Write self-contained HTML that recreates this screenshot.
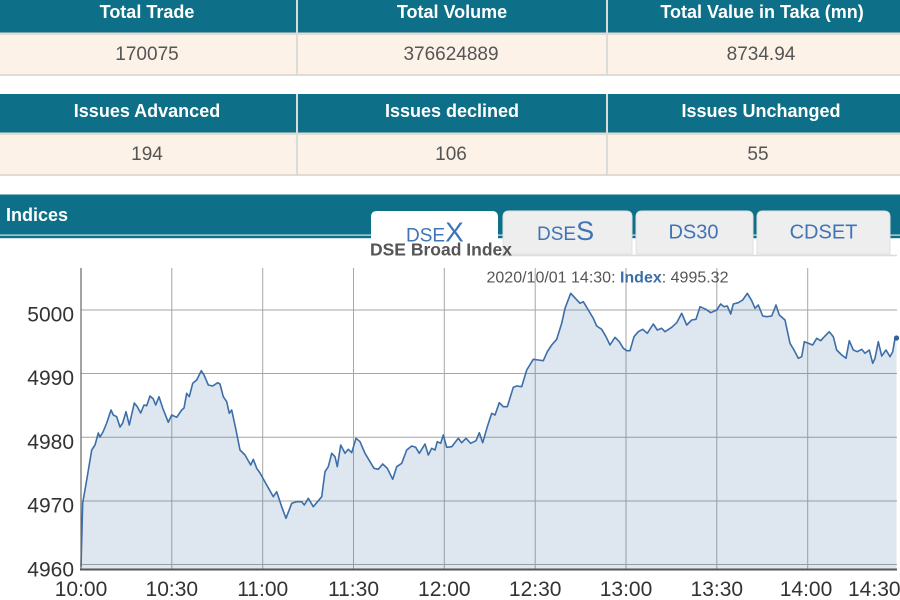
<!DOCTYPE html>
<html><head><meta charset="utf-8">
<style>
html,body{margin:0;padding:0;background:#fff;}
body{width:900px;height:600px;overflow:hidden;}
svg{display:block;font-family:"Liberation Sans",Arial,sans-serif;}
</style></head>
<body>
<svg width="900" height="600" viewBox="0 0 900 600" xmlns="http://www.w3.org/2000/svg">
<rect x="0" y="0" width="900" height="600" fill="#fff"/>
<!-- Table 1 -->
<rect x="0" y="0" width="900" height="32.5" fill="#0e7088"/>
<rect x="0" y="32.5" width="900" height="43.5" fill="#e2dbd1"/>
<rect x="0" y="35" width="900" height="39" fill="#fdf2e8"/>
<rect x="296" y="0" width="2" height="76" fill="#d9dcd8"/>
<rect x="606" y="0" width="2" height="76" fill="#d9dcd8"/>
<g font-size="18" font-weight="bold" fill="#fff" text-anchor="middle">
<text x="147" y="18">Total Trade</text>
<text x="452" y="18">Total Volume</text>
<text x="762" y="18">Total Value in Taka (mn)</text>
</g>
<g font-size="19" fill="#555" text-anchor="middle">
<text x="147" y="60">170075</text>
<text x="451" y="60">376624889</text>
<text x="761" y="60">8734.94</text>
</g>
<!-- Table 2 -->
<rect x="0" y="94" width="900" height="38.5" fill="#0e7088"/>
<rect x="0" y="132.5" width="900" height="43.5" fill="#e2dbd1"/>
<rect x="0" y="135" width="900" height="39" fill="#fdf2e8"/>
<rect x="296" y="94" width="2" height="82" fill="#d9dcd8"/>
<rect x="606" y="94" width="2" height="82" fill="#d9dcd8"/>
<g font-size="18" font-weight="bold" fill="#fff" text-anchor="middle">
<text x="147" y="117">Issues Advanced</text>
<text x="452" y="117">Issues declined</text>
<text x="761" y="117">Issues Unchanged</text>
</g>
<g font-size="19" fill="#555" text-anchor="middle">
<text x="147" y="160">194</text>
<text x="451" y="160">106</text>
<text x="758" y="160">55</text>
</g>
<!-- Indices bar -->
<rect x="0" y="194.5" width="900" height="40" fill="#0e7088"/>
<rect x="0" y="234.5" width="900" height="1.2" fill="#cfe3e8"/>
<rect x="0" y="235.7" width="900" height="2.5" fill="#0e7088"/>
<text x="6" y="221" font-size="18" font-weight="bold" fill="#fff">Indices</text>
<!-- tabs -->
<line x1="498" y1="255.5" x2="897" y2="255.5" stroke="#dcdcdc" stroke-width="1.5"/>
<path d="M503,254 V217 Q503,211 509,211 H626 Q632,211 632,217 V254 Z" fill="#eeeeee" stroke="#e0e0e0" stroke-width="1"/>
<path d="M636,254 V217 Q636,211 642,211 H747 Q753,211 753,217 V254 Z" fill="#eeeeee" stroke="#e0e0e0" stroke-width="1"/>
<path d="M757,254 V217 Q757,211 763,211 H884 Q890,211 890,217 V254 Z" fill="#eeeeee" stroke="#e0e0e0" stroke-width="1"/>
<path d="M371,262 V217 Q371,211 377,211 H492 Q498,211 498,217 V262 Z" fill="#ffffff"/>
<g fill="#3f74b5">
<text x="406" y="241.5" font-size="19">DSE<tspan font-size="28">X</tspan></text>
<text x="537" y="240" font-size="19">DSE<tspan font-size="27">S</tspan></text>
<text x="693.5" y="238.5" font-size="20" text-anchor="middle">DS30</text>
<text x="823.5" y="238.5" font-size="20" text-anchor="middle">CDSET</text>
</g>
<text x="370" y="255.5" font-size="17.5" font-weight="bold" fill="#555">DSE Broad Index</text>
<!-- chart grid -->
<g stroke="#a6a6a6" stroke-width="1">
<line x1="81" y1="310" x2="897" y2="310"/>
<line x1="81" y1="373.5" x2="897" y2="373.5"/>
<line x1="81" y1="437.2" x2="897" y2="437.2"/>
<line x1="81" y1="501" x2="897" y2="501"/>
<line x1="81" y1="564.5" x2="897" y2="564.5"/>
<line x1="171.8" y1="268" x2="171.8" y2="570"/>
<line x1="262.7" y1="268" x2="262.7" y2="570"/>
<line x1="353.5" y1="268" x2="353.5" y2="570"/>
<line x1="444.3" y1="268" x2="444.3" y2="570"/>
<line x1="535.2" y1="268" x2="535.2" y2="570"/>
<line x1="626" y1="268" x2="626" y2="570"/>
<line x1="716.8" y1="268" x2="716.8" y2="570"/>
<line x1="807.7" y1="268" x2="807.7" y2="570"/>
</g>
<text x="486.5" y="282.5" font-size="16" fill="#555">2020/10/01 14:30: <tspan font-weight="bold" fill="#3c6ea8">Index</tspan>: 4995.32</text>
<polygon fill="#3c6ea8" fill-opacity="0.17" points="81,566.7 82.7,503 86.7,480 91.7,450 95,445 98.3,433 100,437 103,432 106.7,423 111,410 113.3,415 116.7,416.7 120,427 122.7,423 126,411.7 129.3,425 134.3,403 137.3,406.7 140.7,413 144,405 146.7,405.7 150,396 153.3,399 155.7,405 159,396.7 162.7,408 168.3,422.3 171.7,415 176.7,417.3 181.7,410 184,408 186.7,393.3 189.3,396.7 192.7,383.3 196.7,380 201.3,370.7 204,375 208.3,385 212.7,386 217.7,382.7 220,384 223.3,396.7 226.7,401.7 229.3,413.3 231.7,410 236,430 240,450 245,455 250.7,465 253.3,459.3 256.7,468.3 260,473 266.7,485 273.3,496.7 276.7,491.7 281.7,506.7 286,518.3 291.7,503.3 296.7,501.7 301.7,501.7 304.3,505 308.3,498.3 313.3,506.7 321.7,496.7 325,471.7 328.3,466.7 331.7,453.3 335,456.7 337.3,466.7 340.7,445 345,453.3 348.3,449.3 351.7,452.7 356,438.3 360,441.7 365,453.3 370,461.7 374,468.3 378.3,469.3 382.7,464 387.3,468.3 392.7,479.3 396.7,466.7 401.7,463.3 406.7,450 411.7,446 415.7,447.3 419.3,453.3 425,444 428.3,455 431.7,448.3 435,450 437.3,441.7 440.7,443.3 443.3,435 446.7,447.3 451.7,446.7 458.3,438.3 461.7,442.7 466,438.3 470.7,443.3 476,440.7 479.3,432.7 482.7,442.7 487.3,426.7 491.7,413.3 495,415 499.3,402.7 503.3,406.7 507.3,406.7 513.3,387.3 516.7,386 521.7,386.7 526.7,370 533.3,359.3 538.3,360 543.3,360.7 547.3,351.7 551.7,345 556.7,339.3 561.7,323.3 565,308.3 570.7,293.3 580,303.3 583.3,301.7 588.3,310 593.3,318.3 596.7,326 601.7,329.3 606,336.7 610,345 615,337.3 619.3,341.7 623.3,348.3 626.7,350.7 630,350.7 634,336.7 638.3,331.7 642.7,329.3 647.3,333.3 653.3,324 657.3,330 661.7,328.3 665,331.7 671.7,327.3 676.7,322.7 681.7,313.3 686.7,325 691.7,320 696,319.3 700,306.7 706,309.3 710.7,312.7 716.7,310 720.7,304 724,306.7 727.3,306 730.7,314 733.3,304 738.3,302.7 742.7,300 747.3,293.3 751.7,300.7 755,308.3 758.3,305 762.7,316 766.7,316.7 771.7,316 776,305 779.3,315 785,320 790,343.3 794,350 798.3,358.3 801.7,356.7 804.3,341.7 808.3,343.3 812.7,345 816.7,338.3 820.7,340.7 825,336 829.3,331.7 833.3,336.7 836.7,350 841.7,355 846,358.3 849.3,340.7 853.3,350 857.3,351.7 861.7,349.3 865,353.3 869.3,350 872.7,363.3 875,358.3 878.3,341.7 881.7,356 886,350 890,356.7 892.7,351.7 895,338.3 896.5,337.3 896.5,570 81,570"/>
<polyline fill="none" stroke="#3c6ea8" stroke-width="1.6" stroke-linejoin="round" points="81,566.7 82.7,503 86.7,480 91.7,450 95,445 98.3,433 100,437 103,432 106.7,423 111,410 113.3,415 116.7,416.7 120,427 122.7,423 126,411.7 129.3,425 134.3,403 137.3,406.7 140.7,413 144,405 146.7,405.7 150,396 153.3,399 155.7,405 159,396.7 162.7,408 168.3,422.3 171.7,415 176.7,417.3 181.7,410 184,408 186.7,393.3 189.3,396.7 192.7,383.3 196.7,380 201.3,370.7 204,375 208.3,385 212.7,386 217.7,382.7 220,384 223.3,396.7 226.7,401.7 229.3,413.3 231.7,410 236,430 240,450 245,455 250.7,465 253.3,459.3 256.7,468.3 260,473 266.7,485 273.3,496.7 276.7,491.7 281.7,506.7 286,518.3 291.7,503.3 296.7,501.7 301.7,501.7 304.3,505 308.3,498.3 313.3,506.7 321.7,496.7 325,471.7 328.3,466.7 331.7,453.3 335,456.7 337.3,466.7 340.7,445 345,453.3 348.3,449.3 351.7,452.7 356,438.3 360,441.7 365,453.3 370,461.7 374,468.3 378.3,469.3 382.7,464 387.3,468.3 392.7,479.3 396.7,466.7 401.7,463.3 406.7,450 411.7,446 415.7,447.3 419.3,453.3 425,444 428.3,455 431.7,448.3 435,450 437.3,441.7 440.7,443.3 443.3,435 446.7,447.3 451.7,446.7 458.3,438.3 461.7,442.7 466,438.3 470.7,443.3 476,440.7 479.3,432.7 482.7,442.7 487.3,426.7 491.7,413.3 495,415 499.3,402.7 503.3,406.7 507.3,406.7 513.3,387.3 516.7,386 521.7,386.7 526.7,370 533.3,359.3 538.3,360 543.3,360.7 547.3,351.7 551.7,345 556.7,339.3 561.7,323.3 565,308.3 570.7,293.3 580,303.3 583.3,301.7 588.3,310 593.3,318.3 596.7,326 601.7,329.3 606,336.7 610,345 615,337.3 619.3,341.7 623.3,348.3 626.7,350.7 630,350.7 634,336.7 638.3,331.7 642.7,329.3 647.3,333.3 653.3,324 657.3,330 661.7,328.3 665,331.7 671.7,327.3 676.7,322.7 681.7,313.3 686.7,325 691.7,320 696,319.3 700,306.7 706,309.3 710.7,312.7 716.7,310 720.7,304 724,306.7 727.3,306 730.7,314 733.3,304 738.3,302.7 742.7,300 747.3,293.3 751.7,300.7 755,308.3 758.3,305 762.7,316 766.7,316.7 771.7,316 776,305 779.3,315 785,320 790,343.3 794,350 798.3,358.3 801.7,356.7 804.3,341.7 808.3,343.3 812.7,345 816.7,338.3 820.7,340.7 825,336 829.3,331.7 833.3,336.7 836.7,350 841.7,355 846,358.3 849.3,340.7 853.3,350 857.3,351.7 861.7,349.3 865,353.3 869.3,350 872.7,363.3 875,358.3 878.3,341.7 881.7,356 886,350 890,356.7 892.7,351.7 895,338.3 896.5,337.3"/>
<circle cx="896.5" cy="338" r="2.6" fill="#2f62a0"/>
<!-- axes -->
<line x1="81" y1="268" x2="81" y2="570" stroke="#666" stroke-width="1.2"/>
<line x1="80" y1="569.5" x2="897" y2="569.5" stroke="#555" stroke-width="2"/>
<g font-size="21" fill="#333" text-anchor="end">
<text x="74" y="321.5">5000</text>
<text x="74" y="385">4990</text>
<text x="74" y="449">4980</text>
<text x="74" y="512.5">4970</text>
<text x="74" y="576.5">4960</text>
</g>
<g font-size="21" fill="#333" text-anchor="middle">
<text x="81" y="596">10:00</text>
<text x="171.8" y="596">10:30</text>
<text x="262.7" y="596">11:00</text>
<text x="353.5" y="596">11:30</text>
<text x="444.3" y="596">12:00</text>
<text x="535.2" y="596">12:30</text>
<text x="626" y="596">13:00</text>
<text x="716.8" y="596">13:30</text>
<text x="806" y="596">14:00</text>
<text x="848" y="596" text-anchor="start">14:30</text>
</g>
</svg>
</body></html>
